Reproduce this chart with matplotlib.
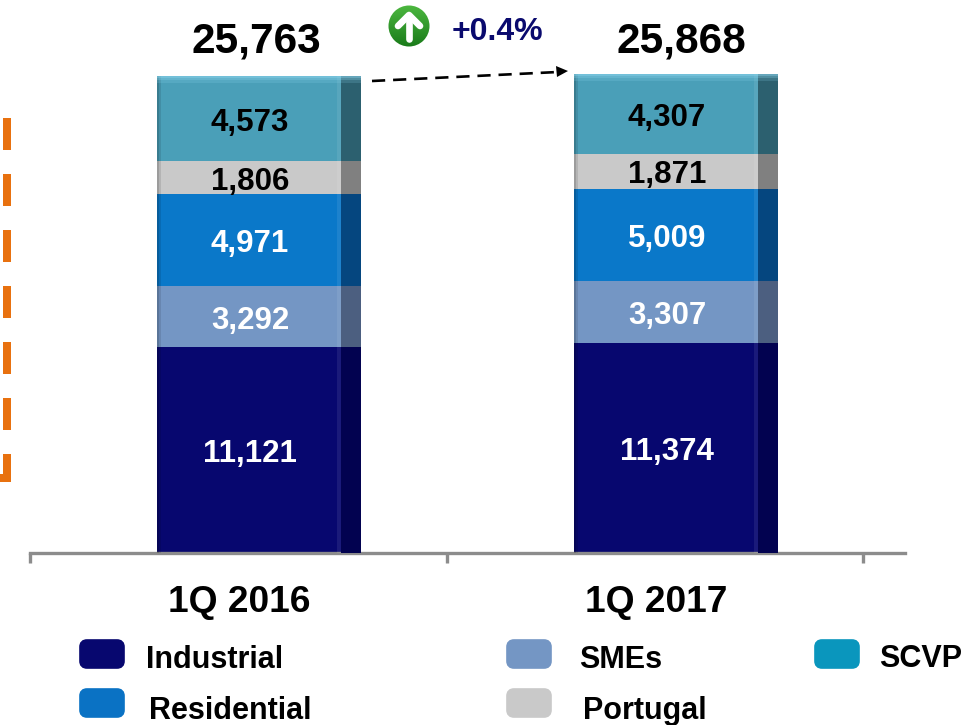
import numpy as np
import matplotlib
matplotlib.use('Agg')
import matplotlib.pyplot as plt
from matplotlib.patches import FancyBboxPatch, Circle, Polygon

plt.rcParams['font.family'] = ['Liberation Sans', 'DejaVu Sans']

# values, bottom segment first
periods = ['1Q 2016', '1Q 2017']
segments = ['Industrial', 'SMEs', 'Residential', 'Portugal', 'SCVP']
industrial = [11121, 11374]
smes = [3292, 3307]
residential = [4971, 5009]
portugal = [1806, 1871]
scvp = [4573, 4307]
totals = [25763, 25868]
change_label = '+0.4%'

series = [industrial, smes, residential, portugal, scvp]
front_colors = ['#07076f', '#7496c4', '#0a78c9', '#c9c9c9', '#4a9fb8']
side_colors = ['#020250', '#4c5f80', '#05467f', '#808080', '#2c606f']
label_colors = ['white', 'white', 'white', 'black', 'black']

W, H = 978, 725
fig = plt.figure(figsize=(W / 100, H / 100), dpi=100)


def px_rect(left, top, right, bottom):
    return [left / W, 1 - bottom / H, (right - left) / W, (bottom - top) / H]


# main axes: x runs 30..905 px, y baseline at 553 px
ax = fig.add_axes(px_rect(30, 0, 905, 553))
ax.patch.set_alpha(0)
unit = 417  # px between the two bars
x0 = 259
px_val = 1 / 0.01850  # data units per pixel
ax.set_xlim((30 - x0) / unit, (905 - x0) / unit)
ax.set_ylim(0, 553 * px_val)

x = np.arange(len(periods))
bar_w = 204 / unit
side_w = 20 / unit
bottom = np.zeros(2)
for vals, front, side, lc in zip(series, front_colors, side_colors, label_colors):
    vals = np.array(vals)
    ax.bar(x, vals, bar_w, bottom=bottom, color=front, linewidth=0, zorder=2)
    ax.bar(x + bar_w / 2 - side_w / 2, vals, side_w, bottom=bottom, color=side, linewidth=0, zorder=3)
    # soft shading on the left edge and along the join with the side face
    for off, wid, alp in [(1, 2, 0.22), (3, 2, 0.10)]:
        ax.bar(x - bar_w / 2 + off / unit, vals, wid / unit, bottom=bottom, color='black', alpha=alp, linewidth=0, zorder=3)
    ax.bar(x + bar_w / 2 - side_w - 2 / unit, vals, 4 / unit, bottom=bottom, color='white', alpha=0.08, linewidth=0, zorder=3)
    for xi, b, v in zip(x, bottom, vals):
        ax.text(xi - 9 / unit, b + v / 2 - 4 * px_val, f'{v:,}', ha='center', va='center', color=lc,
                fontsize=22.5, fontweight='bold', zorder=5)
    bottom = bottom + vals

# lighter bands fading down from the top of each bar
for depth, alp in [(2, 0.35), (4, 0.25), (7, 0.18)]:
    ax.bar(x, [depth * px_val] * 2, bar_w, bottom=np.array(totals) - depth * px_val,
           color='#8fd8f0', alpha=alp, linewidth=0, zorder=4)

for s in ['top', 'left', 'right']:
    ax.spines[s].set_visible(False)
ax.spines['bottom'].set_color('#8c8c8c')
ax.spines['bottom'].set_linewidth(2.4)
ax.set_yticks([])
ax.set_xticks([(30 - x0) / unit, (447 - x0) / unit, (863 - x0) / unit])
ax.set_xticklabels([])
ax.tick_params(axis='x', length=7.5, width=2.4, color='#8c8c8c')

# overlay in pixel coordinates for the slide decorations
ov = fig.add_axes([0, 0, 1, 1])
ov.set_xlim(0, W)
ov.set_ylim(H, 0)
ov.axis('off')
ov.patch.set_alpha(0)

for t, cx in zip(totals, [256, 681]):
    ov.text(cx, 41, f'{t:,}', ha='center', va='center', color='black', fontsize=30.5, fontweight='bold')

for name, cx in zip(periods, [239, 656]):
    ov.text(cx, 602, name, ha='center', va='center', fontsize=26.7, fontweight='bold', color='black')

# orange dashed bracket on the left
ov.plot([7, 7], [118, 482], color='#e8710f', lw=5.76, linestyle=(0, (4, 3)), dash_capstyle='butt', solid_capstyle='butt')
ov.plot([0, 11], [478, 478], color='#e8710f', lw=5.76, solid_capstyle='butt')

# dashed arrow between totals
ov.plot([372, 558], [81, 72], color='black', lw=1.9, linestyle=(0, (5, 3)))
ov.add_patch(Polygon([[556, 66], [568, 71], [557, 77]], closed=True, color='black', lw=0))

# green up icon
icon_c = (409, 26)
clip = Circle(icon_c, 20.5, transform=ov.transData)
grad = np.linspace(0, 1, 64).reshape(-1, 1)
grad_rgb = np.array([0.30, 0.72, 0.25]) * (1 - grad) + np.array([0.10, 0.48, 0.10]) * grad
im = ov.imshow(grad_rgb.reshape(64, 1, 3), extent=(388, 430, 47, 5), aspect='auto', zorder=2)
im.set_clip_path(clip)
ov.set_xlim(0, W)
ov.set_ylim(H, 0)
ov.plot([409, 409], [17, 39], color='white', lw=4.8, solid_capstyle='round', zorder=3)
ov.plot([398, 409, 420], [26, 15, 26], color='white', lw=4.8, solid_capstyle='round', solid_joinstyle='round', zorder=3)
ov.text(497, 32, change_label, ha='center', va='center', fontsize=23, fontweight='bold', color='#0a0a6e')

# legend drawn by hand, the keys sit in an uneven grid
legend_keys = [
    ('Industrial', '#07076f', 79, 654, 215, 660),
    ('SMEs', '#7496c4', 506, 654, 621, 660),
    ('SCVP', '#0a96bd', 814, 654, 921, 659),
    ('Residential', '#0a72c4', 79, 703, 230, 711),
    ('Portugal', '#c9c9c9', 506, 703, 645, 711),
]
for name, col, kx, ky, tx, ty in legend_keys:
    ov.add_patch(FancyBboxPatch((kx + 4, ky - 11), 38, 22, boxstyle='round,pad=0,rounding_size=4',
                                mutation_aspect=1, facecolor=col, edgecolor=col, lw=5.5))
    ov.text(tx, ty, name, ha='center', va='center', fontsize=22, fontweight='bold', color='black')

fig.savefig('out.png', dpi=100)
